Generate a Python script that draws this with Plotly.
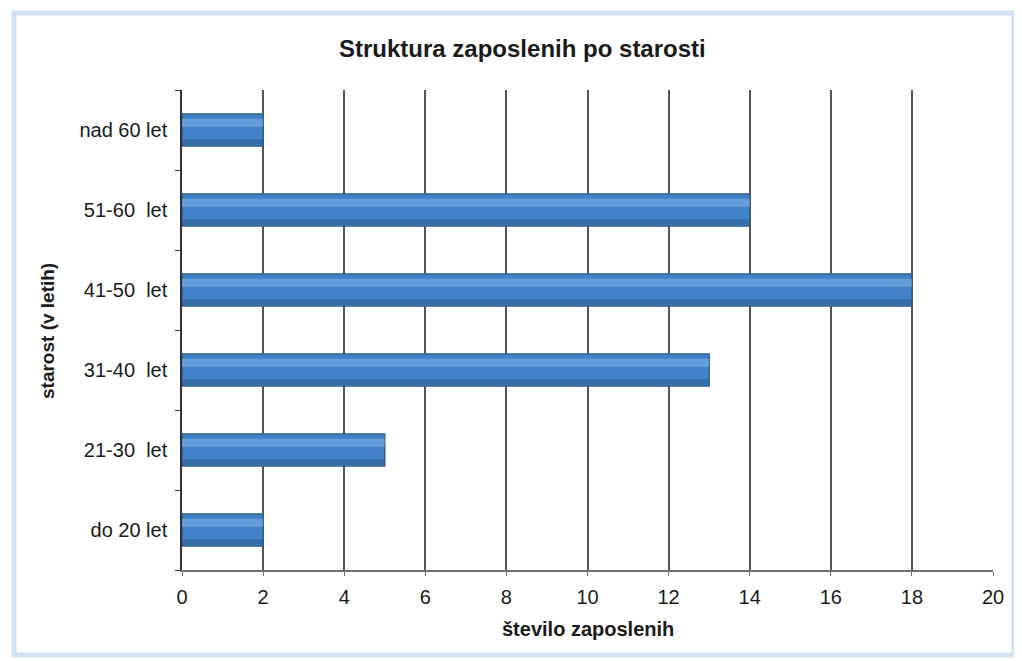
import plotly.graph_objects as go

categories = ["do 20 let", "21-30  let", "31-40  let", "41-50  let", "51-60  let", "nad 60 let"]
values = [2, 5, 13, 18, 14, 2]
x_ticks = [0, 2, 4, 6, 8, 10, 12, 14, 16, 18, 20]

title_text = "Struktura zaposlenih po starosti"
x_title = "število zaposlenih"
y_title = "starost (v letih)"

FONT = "Liberation Sans, Arial, sans-serif"

fig = go.Figure()
fig.add_trace(go.Bar(
    x=values, y=categories, orientation="h", width=0.4,
    marker=dict(color="#4282c8", line=dict(color="#30608f", width=1.5)),
    hoverinfo="x+y",
))
# glossy highlight near the top of each bar
fig.add_trace(go.Bar(
    x=values, y=categories, orientation="h", width=0.1, offset=0.04,
    marker=dict(color="rgba(135,185,238,0.5)", line=dict(width=0)),
    hoverinfo="skip",
))
# darker shade near the bottom of each bar
fig.add_trace(go.Bar(
    x=values, y=categories, orientation="h", width=0.07, offset=-0.185,
    marker=dict(color="rgba(40,78,125,0.4)", line=dict(width=0)),
    hoverinfo="skip",
))

# page body has an 8px margin: work in reference coords and shift by 8
OFF = 8
W, H = 1022 - OFF, 661 - OFF
L = 182 - OFF
T = 90 - OFF
R = W - (993 - OFF)
B = H - (570 - OFF)
pw, ph = W - L - R, H - T - B

def px(x):
    return (x - OFF - L) / pw

def py(y):
    return (H - B - (y - OFF)) / ph

fig.update_layout(
    width=W, height=H,
    margin=dict(l=L, r=R, t=T, b=B, pad=0),
    paper_bgcolor="white", plot_bgcolor="white",
    showlegend=False, barmode="overlay",
    font=dict(family=FONT, color="#1a1a1a"),
    xaxis=dict(
        range=[0, 20], tickvals=x_ticks, showgrid=True, gridcolor="#555555", gridwidth=1.5,
        zeroline=False, showline=True, linecolor="#707070", linewidth=1.5,
        ticks="outside", ticklen=4, tickcolor="#707070",
        tickfont=dict(size=20, family=FONT, color="#1a1a1a"), ticklabelstandoff=4,
        fixedrange=True,
    ),
    yaxis=dict(
        categoryorder="array", categoryarray=categories,
        showgrid=False, zeroline=False, showline=True, linecolor="#333333", linewidth=1.5,
        ticks="outside", tickson="boundaries", ticklen=5, tickcolor="#333333",
        tickfont=dict(size=20, family=FONT, color="#1a1a1a"), ticklabelstandoff=9,
        fixedrange=True,
    ),
    shapes=[dict(
        type="rect", xref="paper", yref="paper",
        x0=px(14), x1=px(1014), y0=py(655), y1=py(13),
        line=dict(color="#d2e2f4", width=5), fillcolor="rgba(0,0,0,0)", layer="below",
    )],
    annotations=[
        dict(text="<b>" + title_text + "</b>", xref="paper", yref="paper",
             x=px(522), y=py(48), showarrow=False, xanchor="center", yanchor="middle",
             font=dict(size=24, family=FONT, color="#1a1a1a")),
        dict(text="<b>" + x_title + "</b>", xref="paper", yref="paper",
             x=px(588), y=py(629), showarrow=False, xanchor="center", yanchor="middle",
             font=dict(size=20, family=FONT, color="#1a1a1a")),
        dict(text="<b>" + y_title + "</b>", xref="paper", yref="paper",
             x=px(47), y=py(331), showarrow=False, xanchor="center", yanchor="middle",
             textangle=-90, font=dict(size=19, family=FONT, color="#1a1a1a")),
    ],
)

fig.write_html("out.html")
